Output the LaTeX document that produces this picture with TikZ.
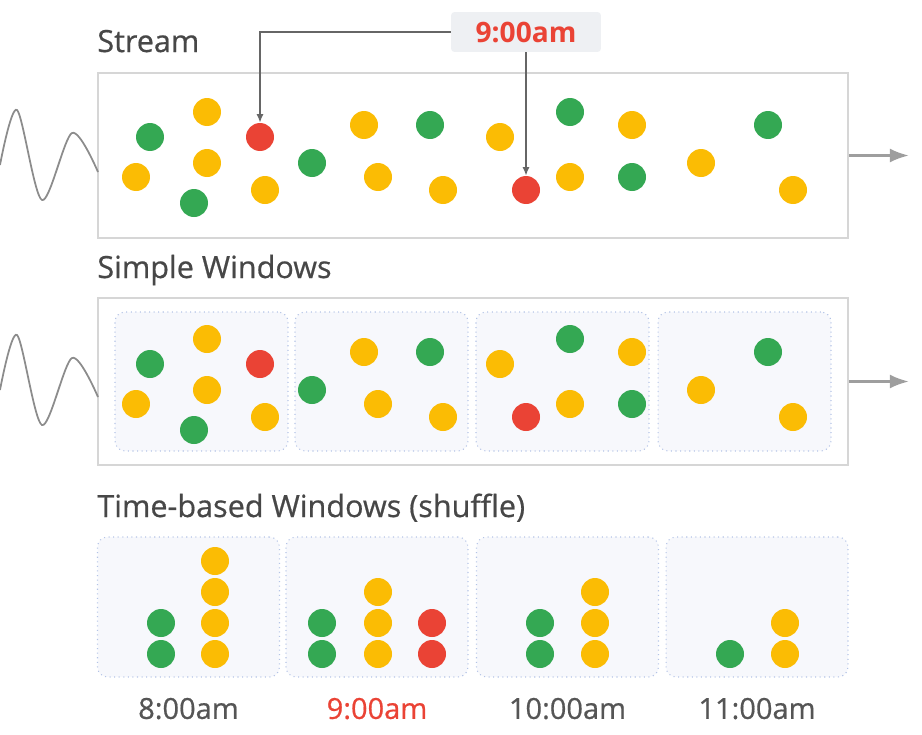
\documentclass[tikz,border=0pt]{standalone}
\usepackage{fontspec}
\setmainfont{Open Sans}
\newfontfamily\headfont{Open Sans}[FakeBold=0.6]
\usetikzlibrary{positioning,arrows.meta}

\definecolor{dotgreen}{HTML}{34A853}
\definecolor{dotyellow}{HTML}{FBBC04}
\definecolor{dotred}{HTML}{EA4335}
\definecolor{textgray}{HTML}{474747}
\definecolor{labelgray}{HTML}{555555}
\definecolor{framegray}{HTML}{D6D6D6}
\definecolor{winblue}{HTML}{B3C3E6}
\definecolor{winfill}{HTML}{F7F8FC}
\definecolor{tagfill}{HTML}{EEF0F3}

\tikzset{
  ball/.style={circle,inner sep=0pt,minimum size=0.56cm},
  gdot/.style={ball,fill=dotgreen},
  ydot/.style={ball,fill=dotyellow},
  rdot/.style={ball,fill=dotred},
  framebox/.style={draw=framegray,line width=1.1pt,minimum width=15cm,inner sep=0pt},
  winbox/.style={draw=winblue,dotted,fill=winfill,rounded corners=0.2cm,inner sep=0pt,line width=0.6pt},
  title/.style={text=textgray,font=\headfont\fontsize{17.4}{20}\selectfont,anchor=base west,inner sep=0pt},
  timelabel/.style={font=\headfont\fontsize{16.5}{19}\selectfont,inner sep=0pt},
  tag/.style={fill=tagfill,text=dotred,font=\bfseries\fontsize{16}{19}\selectfont,
    minimum width=3cm,minimum height=0.8cm,rounded corners=2pt},
  conn/.style={draw=black!60,line width=0.8pt,-{Latex[length=0.17cm,width=0.14cm]}},
  flow/.style={draw=black!38,line width=1.5pt,-{Latex[length=0.38cm,width=0.28cm]}},
  wave/.style={draw=black!45,line width=1pt}
}

\begin{document}
\begin{tikzpicture}[x=0.02cm,y=-0.02cm]
  \useasboundingbox (0,0) rectangle (922,734);

  % Events: x/y/kind
  \def\EventList{150/137/gdot, 207/112/ydot, 136/177/ydot, 207/163/ydot, 194/203/gdot,
    260/137/rdot, 265/190/ydot, 312/163/gdot, 364/125/ydot, 378/177/ydot, 430/125/gdot,
    443/190/ydot, 500/137/ydot, 526/190/rdot, 570/112/gdot, 570/177/ydot, 632/125/ydot,
    632/177/gdot, 701/163/ydot, 768/125/gdot, 793/190/ydot}
  % Buckets: x/kind/how many
  \def\BucketList{161/gdot/2, 215/ydot/4, 322/gdot/2, 378/ydot/3, 432/rdot/2,
    540/gdot/2, 595/ydot/3, 730/gdot/1, 785/ydot/2}

  %Titles
  \node[title] (streamtitle) at (97,52) {Stream};
  \node[title] (simpletitle) at (97,278) {Simple Windows};
  \node[title] (timetitle) at (97,517) {Time-based Windows (shuffle)};

  %Frames
  \node[framebox,minimum height=3.3cm] (stream) at (473,155.5) {};
  \node[framebox,minimum height=3.34cm] (simple) at (473,381.5) {};

  % Incoming waves
  \foreach \dy in {0,225}
      {\draw[wave] plot[smooth] coordinates {(0,165+\dy) (17,110+\dy) (42,200+\dy) (72,133+\dy) (98,172+\dy)};}

  % Outgoing flows
  \coordinate[right=1.2cm of stream] (streamout);
  \coordinate[right=1.2cm of simple] (simpleout);
  \draw[flow] (stream) -- (streamout);
  \draw[flow] (simple) -- (simpleout);

  % Simple windows
  \foreach \x [count=\i] in {201.5,381.5,562.5,744.5}
      {\node[winbox,minimum width=3.46cm,minimum height=2.78cm] (sw\i) at (\x,381.5) {};}

  % Time-based windows and their labels
  \foreach \x/\t/\col [count=\i] in {188.5/8:00am/labelgray, 377/9:00am/dotred, 567.5/10:00am/labelgray, 757/11:00am/labelgray}
      {\node[winbox,minimum width=3.64cm,minimum height=2.8cm] (tw\i) at (\x,607) {};
       \node[timelabel,text=\col,below=0.4cm of tw\i] (tl\i) {\t};}

  % Events in the stream, then in the simple windows
  \foreach \x/\y/\k [count=\i] in \EventList
      {\node[\k] (s\i) at (\x,\y) {};
       \node[\k] (w\i) at (\x,\y+227) {};}

  % Events stacked per hour
  \foreach \x/\k/\n in \BucketList
      \foreach \j in {1,...,\n}
         {\node[\k] (t\x-\j) at (\x,685-31*\j) {};}

  % Event time
  \node[tag] (tag) at (526,32) {9:00am};
  \draw[conn] (tag.west) -| (s6.north);
  \draw[conn] (tag.south) -- (s14.north);

\end{tikzpicture}
\end{document}
